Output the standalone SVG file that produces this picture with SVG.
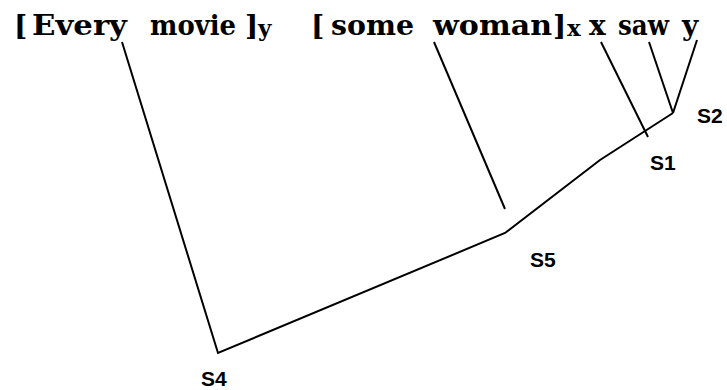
<svg xmlns="http://www.w3.org/2000/svg" width="727" height="390" viewBox="0 0 727 390">
<style>
.w{font-family:"DejaVu Serif","Liberation Serif",serif;font-weight:bold;font-size:28px;fill:#000}
.s{font-family:"DejaVu Serif","Liberation Serif",serif;font-weight:bold;font-size:23px;fill:#000}
.lbl{font-family:"Liberation Sans",Arial,sans-serif;font-weight:bold;font-size:21px;fill:#000}
.e{fill:none;stroke:#000;stroke-width:2;stroke-linejoin:miter}
</style>
<rect width="727" height="390" fill="#fff"/>
<g id="sentence">
<text class="w" x="14" y="35">[</text>
<text class="w" x="32" y="35" textLength="95" lengthAdjust="spacingAndGlyphs">Every</text>
<text class="w" x="150" y="35" textLength="86" lengthAdjust="spacingAndGlyphs">movie</text>
<text class="w" x="245" y="35">]</text>
<text class="s" x="258" y="36">y</text>
<text class="w" x="311" y="35">[</text>
<text class="w" x="331" y="35" textLength="83" lengthAdjust="spacingAndGlyphs">some</text>
<text class="w" x="433" y="35" textLength="119" lengthAdjust="spacingAndGlyphs">woman</text>
<text class="w" x="553" y="35">]</text>
<text class="s" x="567" y="36">x</text>
<text class="w" x="589" y="35">x</text>
<text class="w" x="618" y="35" textLength="51" lengthAdjust="spacingAndGlyphs">saw</text>
<text class="w" x="682" y="35">y</text>
</g>
<g id="connectors">
<polyline class="e" points="122,42 218,353 505,233 600,160 673,113"/>
<line class="e" x1="434" y1="42" x2="505" y2="209"/>
<line class="e" x1="601" y1="42" x2="648" y2="137"/>
<line class="e" x1="649" y1="42" x2="673" y2="113"/>
<line class="e" x1="697" y1="40" x2="673" y2="113"/>
</g>
<g id="S2"><text class="lbl" x="697" y="123">S2</text></g>
<g id="S1"><text class="lbl" x="650" y="170">S1</text></g>
<g id="S5"><text class="lbl" x="530" y="267">S5</text></g>
<g id="S4"><text class="lbl" x="201" y="386">S4</text></g>
</svg>
